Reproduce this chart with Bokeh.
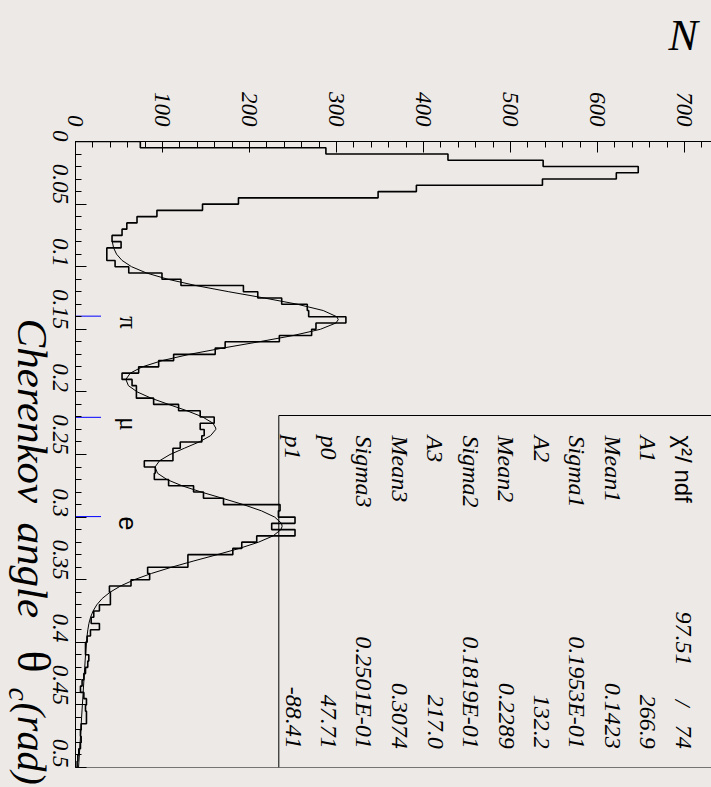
from math import pi
from bokeh.plotting import figure
from bokeh.models import Range1d, SingleIntervalTicker, CustomJSTickFormatter, Label, Span
from bokeh.embed import file_html
from bokeh.resources import INLINE

# ---------------- data ----------------
theta_min = 0.0
theta_max = 0.5
bin_width = 0.005
n_max = 731.0

counts = [
    74.5, 287.8, 428.1, 537.5, 646.8, 621.6, 536.7, 391.8, 347.8, 187.3,
    146.0, 93.6, 70.7, 59.0, 53.5, 42.0, 52.4, 36.0, 36.0, 45.5,
    61.2, 99.4, 121.2, 193.0, 209.5, 237.0, 266.4, 268.0, 310.8, 276.4,
    271.4, 234.3, 172.0, 160.6, 112.8, 95.6, 72.6, 53.5, 65.0, 70.0,
    70.0, 89.8, 118.5, 143.3, 159.4, 143.3, 147.9, 145.2, 120.4, 112.0,
    112.0, 79.1, 91.7, 90.6, 107.0, 135.7, 147.1, 170.1, 235.1, 233.2,
    252.3, 225.5, 252.3, 208.3, 191.1, 180.8, 129.2, 129.2, 82.9, 85.2,
    63.8, 39.0, 40.1, 40.1, 27.5, 21.0, 18.0, 27.5, 17.2, 13.4,
    11.5, 11.5, 15.3, 14.1, 11.5, 9.6, 7.6, 5.7, 9.6, 12.6,
    11.5, 12.6, 12.6, 6.5, 5.7, 6.5, 5.7, 3.8, 2.7, 1.9,
]

fit_theta = [
    0.080, 0.085, 0.090, 0.095, 0.100, 0.105, 0.110, 0.115, 0.120, 0.125,
    0.130, 0.135, 0.140, 0.1423, 0.145, 0.150, 0.155, 0.160, 0.165, 0.170,
    0.175, 0.180, 0.185, 0.190, 0.195, 0.200, 0.205, 0.210, 0.215, 0.220,
    0.225, 0.2289, 0.230, 0.235, 0.240, 0.245, 0.250, 0.255, 0.260, 0.265,
    0.270, 0.275, 0.280, 0.285, 0.290, 0.295, 0.300, 0.305, 0.3074, 0.310,
    0.315, 0.320, 0.325, 0.330, 0.335, 0.340, 0.345, 0.350, 0.355, 0.360,
    0.365, 0.370, 0.375, 0.380, 0.385, 0.390, 0.395, 0.400, 0.410, 0.420,
    0.430, 0.440, 0.450, 0.460, 0.470, 0.480, 0.490, 0.500,
]
fit_counts = [
    42.3, 43.8, 47.2, 53.5, 64.4, 81.5, 106.0, 138.0, 176.2, 217.0,
    255.1, 284.7, 300.4, 302.0, 299.3, 281.4, 250.0, 210.7, 169.2, 131.0,
    99.6, 76.7, 63.0, 57.9, 60.8, 70.9, 86.9, 107.0, 127.9, 146.1,
    158.0, 161.2, 161.2, 155.2, 142.0, 125.1, 108.6, 96.6, 91.4, 94.3,
    105.1, 122.5, 144.6, 169.0, 192.9, 213.7, 229.0, 236.8, 237.5, 236.1,
    227.1, 210.5, 188.4, 162.8, 136.1, 110.5, 87.3, 67.6, 51.8, 39.7,
    30.7, 24.5, 20.2, 17.3, 15.4, 14.2, 13.3, 12.6, 11.5, 10.6,
    9.7, 8.8, 7.9, 7.0, 6.2, 5.3, 4.4, 3.5,
]

particle_names = ["\u03c0", "\u03bc", "e"]
particle_theta = [0.1395, 0.2203, 0.2996]
particle_fonts = ["Liberation Serif", "Liberation Serif", "Liberation Sans"]

stat_names = ["A1", "Mean1", "Sigma1", "A2", "Mean2", "Sigma2",
              "A3", "Mean3", "Sigma3", "p0", "p1"]
stat_values = ["266.9", "0.1423", "0.1953E-01", "132.2", "0.2289", "0.1819E-01",
               "217.0", "0.3074", "0.2501E-01", "47.71", "-88.41"]
chi2_value = "97.51"
ndf_value = "74"

x_title = "N"
y_title_words = ["Cherenkov", "angle"]
y_title_symbol = "\u03b8"
y_title_sub = "c"
y_title_unit = "(rad)"

# ---------------- layout helpers ----------------
BG = "#ECE9E7"
SERIF = "Liberation Serif"
SANS = "Liberation Sans"
FRAME_LEFT = 75.0      # page px of N = 0
FRAME_TOP = 141.0      # page px of theta = 0
FRAME_W = 636
FRAME_H = 626
PX_PER_N = FRAME_W / n_max
PX_PER_THETA = FRAME_H / (theta_max - theta_min)
LIFT = 0.38            # em offset that puts the glyph baseline where intended


def dn(xp):
    return (xp - FRAME_LEFT) / PX_PER_N


def dt(yp):
    return (yp - FRAME_TOP) / PX_PER_THETA


p = figure(frame_width=FRAME_W, frame_height=FRAME_H,
           x_range=Range1d(0, n_max), y_range=Range1d(theta_max, theta_min),
           x_axis_location="above", output_backend="svg", toolbar_location=None,
           min_border_left=75, min_border_top=141, min_border_bottom=20, min_border_right=0,
           background_fill_color=BG, border_fill_color=BG, outline_line_color=None)
p.xgrid.grid_line_color = None
p.ygrid.grid_line_color = None

# axes
xa = p.xaxis[0]
xa.ticker = SingleIntervalTicker(interval=100, num_minor_ticks=5)
xa.major_label_orientation = -pi / 2
ya = p.yaxis[0]
ya.ticker = SingleIntervalTicker(interval=0.05, num_minor_ticks=5)
ya.formatter = CustomJSTickFormatter(code="""
    let s = tick.toFixed(2);
    if (s.indexOf('.') >= 0) { s = s.replace(/0+$/, '').replace(/\\.$/, ''); }
    return s;
""")
ya.major_label_orientation = -pi / 2
for ax in (xa, ya):
    ax.axis_line_color = "black"
    ax.axis_line_width = 1
    ax.major_tick_in = 11
    ax.major_tick_out = 0
    ax.minor_tick_in = 6
    ax.minor_tick_out = 0
    ax.major_tick_line_color = "black"
    ax.minor_tick_line_color = "black"
    ax.major_label_text_font = SERIF
    ax.major_label_text_font_style = "italic"
    ax.major_label_text_font_size = "23px"
    ax.major_label_text_color = "black"
xa.major_label_standoff = 15
ya.major_label_standoff = 15

# bottom frame edge
p.add_layout(Span(location=theta_max, dimension="width", line_color="black", line_width=1))

# histogram outline (steps along theta)
edges = [theta_min + i * bin_width for i in range(len(counts) + 1)]
hx, hy = [0.0], [edges[0]]
for i, c in enumerate(counts):
    hx += [c, c]
    hy += [edges[i], edges[i + 1]]
hx.append(0.0)
hy.append(edges[-1])
p.line(hx, hy, line_color="black", line_width=1.6)

# fit curve
p.line(fit_counts, fit_theta, line_color="black", line_width=1)

# particle markers
p.segment(x0=[0] * len(particle_theta), y0=particle_theta,
          x1=[dn(100.5)] * len(particle_theta), y1=particle_theta,
          line_color="blue", line_width=1)


def add_text(text, xp, yp, size, font=SERIF, style="italic", align="left",
             angle=-pi / 2, place=None, lift=None):
    shift = (LIFT if lift is None else lift) * size
    if angle == 0:
        yp = yp - shift
    else:
        xp = xp + shift
    lbl = Label(x=dn(xp), y=dt(yp), text=text, angle=angle,
                text_align=align, text_baseline="alphabetic",
                text_font=font, text_font_style=style,
                text_font_size=f"{size}px", text_color="black")
    if place is None:
        p.add_layout(lbl)
    else:
        # side-panel labels are not clipped to the frame
        p.add_layout(lbl, place)


for name, th, fnt in zip(particle_names, particle_theta, particle_fonts):
    add_text(name, 118.0, FRAME_TOP + th * PX_PER_THETA, 25, font=fnt, style="normal")

# stats box
box_left = dn(278.3)
box_top = dt(415.0)
p.segment(x0=[box_left, box_left], y0=[box_top, box_top],
          x1=[box_left, n_max + 50], y1=[theta_max, box_top],
          line_color="black", line_width=1)

row0 = 673.8
row_step = 35.45
add_text("\u03c7\u00b2/ ndf", row0, 435.0, 24, font=SANS, style="normal")
add_text(chi2_value, row0, 665.0, 24, align="right")
add_text("/", row0, 706.0, 24, align="right")
add_text(ndf_value, row0, 748.3, 24, align="right")
for k, (nm, val) in enumerate(zip(stat_names, stat_values)):
    xb = row0 - (k + 1) * row_step
    add_text(nm, xb, 435.0, 24)
    add_text(val, xb, 748.3, 24, align="right")

# axis titles: kept in the (off-screen) right panel so that they are not clipped
add_text(x_title, 668.0, 52.0, 44, angle=0, place="right")
add_text(y_title_words[0], 19.0, 318.0, 43, place="right", lift=0.3)
add_text(y_title_words[1], 19.0, 522.0, 43, place="right", lift=0.3)
add_text(y_title_symbol, 19.0, 650.0, 46, style="normal", place="right", lift=0.3)
add_text(y_title_sub, 10.0, 687.0, 30, place="right", lift=0.3)
add_text(y_title_unit, 19.0, 702.0, 40, place="right", lift=0.3)

html = file_html(p, INLINE)
css = "<style>html, body { overflow: hidden !important; background-color: %s; }</style>" % BG
if "</head>" in html:
    html = html.replace("</head>", css + "</head>", 1)
else:
    html = css + html
open("out.html", "w").write(html)
